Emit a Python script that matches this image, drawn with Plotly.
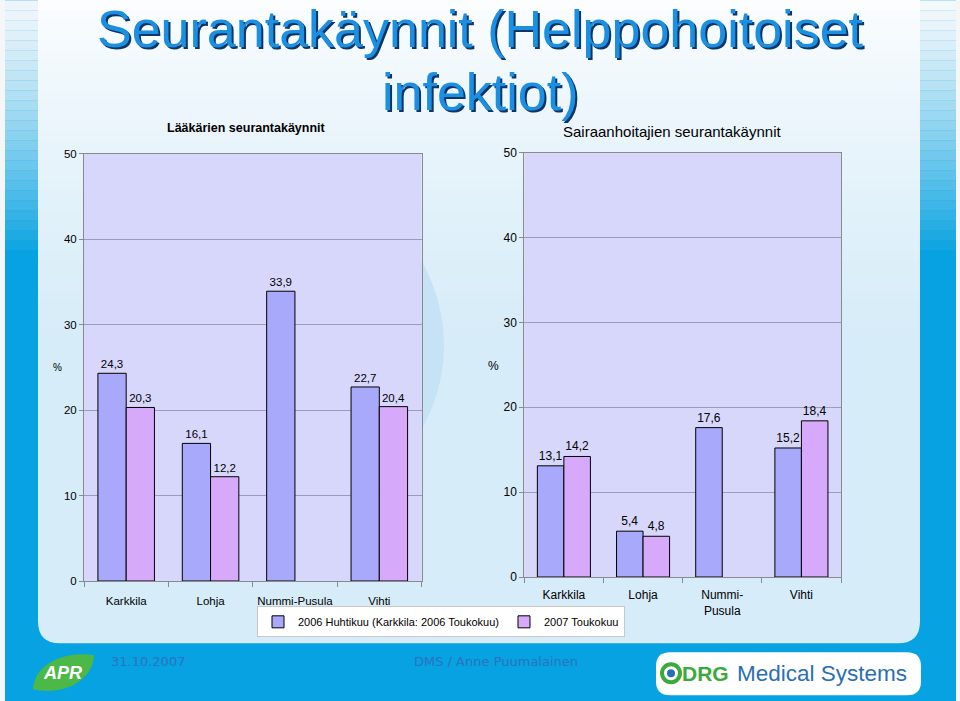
import plotly.graph_objects as go

W, H = 960, 701


def X(px):
    return px / W


def Y(py):
    return 1 - py / H


def D(ry):
    # reference-picture y pixel -> figure y pixel (the page is photographed
    # with a slight vertical squeeze: photo_y = 6.7 + 0.98 * fig_y)
    return (ry - 6.7) / 0.98


# ---------------- data ----------------
categories = ["Karkkila", "Lohja", "Nummi-Pusula", "Vihti"]
left_ticklabels = ["Karkkila", "Lohja", "Nummi-Pusula", "Vihti"]
right_ticklabels = ["Karkkila", "Lohja", "Nummi-<br>Pusula", "Vihti"]
series_names = ["2006 Huhtikuu (Karkkila: 2006 Toukokuu)", "2007 Toukokuu"]
doctors_2006 = [24.3, 16.1, 33.9, 22.7]
doctors_2007 = [20.3, 12.2, None, 20.4]
nurses_2006 = [13.1, 5.4, 17.6, 15.2]
nurses_2007 = [14.2, 4.8, None, 18.4]
y_ticks = [0, 10, 20, 30, 40, 50]

title_lines = ["Seurantakäynnit (Helppohoitoiset", "infektiot)"]
left_title = "Lääkärien seurantakäynnit"
right_title = "Sairaanhoitajien seurantakäynnit"
footer_date = "31.10.2007"
footer_author = "DMS / Anne Puumalainen"

# ---------------- style ----------------
FONT = "Liberation Sans, Arial, sans-serif"
C1 = "#a9a9fb"
C2 = "#d7a9fb"
PLOT_BG = "#d7d7fb"
GRID = "#9c9cba"
AXIS = "#8a8a8a"
BLUE = "#06a2e1"

# plot-area boxes (left, top, right, bottom) in figure pixels
LEFT_BOX = (84, D(153.3), 421.5, D(580.7))
RIGHT_BOX = (524.3, D(152.3), 841, D(576.7))

fig = go.Figure()

for name, vals, col in [
    (series_names[0], doctors_2006, C1),
    (series_names[1], doctors_2007, C2),
]:
    fig.add_trace(go.Bar(
        x=categories, y=vals, name=name, marker=dict(color=col, line=dict(color="black", width=1)),
        texttemplate="%{y:.1f}", textposition="outside", cliponaxis=False, constraintext="none",
        textfont=dict(size=11.5, color="black", family=FONT), xaxis="x", yaxis="y",
        legendgroup=name, showlegend=True, hoverinfo="skip"))

for name, vals, col in [
    (series_names[0], nurses_2006, C1),
    (series_names[1], nurses_2007, C2),
]:
    fig.add_trace(go.Bar(
        x=categories, y=vals, name=name, marker=dict(color=col, line=dict(color="black", width=1)),
        texttemplate="%{y:.1f}", textposition="outside", cliponaxis=False, constraintext="none",
        textfont=dict(size=12, color="black", family=FONT), xaxis="x2", yaxis="y2",
        legendgroup=name, showlegend=False, hoverinfo="skip"))


def hexrgb(h):
    h = h.lstrip("#")
    return tuple(int(h[i:i + 2], 16) for i in (0, 2, 4))


def mix(a, b, t):
    ra, rb = hexrgb(a), hexrgb(b)
    return "rgb(%d,%d,%d)" % tuple(round(ra[i] + (rb[i] - ra[i]) * t) for i in range(3))


shapes = []


def rect(x0, y0, x1, y1, color, layer="below", line=None):
    shapes.append(dict(type="rect", xref="paper", yref="paper", x0=X(x0), x1=X(x1), y0=Y(y1), y1=Y(y0),
                       fillcolor=color, line=dict(width=0) if line is None else line, layer=layer))


def path(d_pts, color, layer="below", line=None):
    shapes.append(dict(type="path", xref="paper", yref="paper", path=d_pts, fillcolor=color,
                       line=dict(width=0) if line is None else line, layer=layer))


def P(px, ry):
    return "%.5f,%.5f" % (X(px), Y(D(ry)))


# outer blue frame
rect(5, -10, 956, H + 10, BLUE)
# strip gradients
n = 26
for i in range(n):
    y0 = D(i * 10)
    rect(5, y0, 38, y0 + 10.5, mix("#eef5fa", BLUE, (i / (n - 1)) ** 1.3))
    rect(918, y0, 956, y0 + 10.5, mix("#f3f8fb", BLUE, (i / (n - 1)) ** 1.2))
# inner panel with rounded bottom corners
r = 22
d = ("M " + P(38, -10) + " L " + P(920, -10) + " L " + P(920, 643 - r) +
     " Q " + P(920, 643) + " " + P(920 - r, 643) + " L " + P(38 + r, 643) +
     " Q " + P(38, 643) + " " + P(38, 643 - r) + " Z")
path(d, "#d6ecf8")
m = 34
for i in range(m):
    y0 = D(i * 10)
    rect(38, y0 - (12 if i == 0 else 0), 920, y0 + 10.8, mix("#fbfdfe", "#d6ecf8", (i / (m - 1)) ** 0.8))
# decorative circle
shapes.append(dict(type="circle", xref="paper", yref="paper", x0=X(275 - 169), x1=X(275 + 169),
                   y0=Y(D(345 + 169)), y1=Y(D(345 - 169)), fillcolor="#c5e3f4", line=dict(width=0),
                   layer="below"))
# opaque plot backgrounds
for bx in (LEFT_BOX, RIGHT_BOX):
    rect(bx[0], bx[1], bx[2], bx[3], PLOT_BG)

# APR logo
path("M " + P(33, 689) + " C " + P(34, 662) + " " + P(68, 650) + " " + P(94, 655) +
     " C " + P(93, 681) + " " + P(62, 696) + " " + P(33, 689) + " Z", "#4cb848", layer="above")
# DRG logo box
rr = 14
d = ("M " + P(656 + rr, 652) + " L " + P(921 - rr, 652) + " Q " + P(921, 652) + " " + P(921, 652 + rr) +
     " L " + P(921, 695 - rr) + " Q " + P(921, 695) + " " + P(921 - rr, 695) + " L " + P(656 + rr, 695) +
     " Q " + P(656, 695) + " " + P(656, 695 - rr) + " L " + P(656, 652 + rr) + " Q " + P(656, 652) + " " +
     P(656 + rr, 652) + " Z")
path(d, "white", layer="above")
shapes.append(dict(type="circle", xref="paper", yref="paper", x0=X(662), x1=X(680), y0=Y(D(682)), y1=Y(D(664)),
                   fillcolor="rgba(0,0,0,0)", line=dict(color="#3aaa3a", width=4), layer="above"))
shapes.append(dict(type="circle", xref="paper", yref="paper", x0=X(667), x1=X(675), y0=Y(D(677)), y1=Y(D(669)),
                   fillcolor="#2a6fb5", line=dict(width=0), layer="above"))

annotations = []


def text(px, ry, s, size, color="black", xanchor="center", yanchor="middle", weight="normal",
         family=FONT, style="normal"):
    annotations.append(dict(x=X(px), y=Y(D(ry)), xref="paper", yref="paper", text=s, showarrow=False,
                            xanchor=xanchor, yanchor=yanchor,
                            font=dict(size=size, color=color, family=family, weight=weight, style=style)))


# main title with shadow
for line, ry in zip(title_lines, [28.3, 92]):
    text(482, ry + 2, line, 52, color="#0d3566")
    text(480, ry, line, 52, color="#1b8fe2")

text(247, 128, left_title, 12.5, weight="bold")
text(672, 131, right_title, 15)
text(57, 367, "%", 10)
text(493, 366, "%", 12)

# footer
text(148, 661, footer_date, 13, color="#2c72c0", family="DejaVu Sans, Verdana, sans-serif")
text(496, 661, footer_author, 13, color="#2c72c0", family="DejaVu Sans, Verdana, sans-serif")
text(62, 673, "APR", 18, color="white", weight="bold", style="italic")
text(680, 673.5, "DRG", 21, color="#3aaa3a", xanchor="left", weight="bold")
text(735, 673.5, "Medical Systems", 22.5, color="#2a6fb5", xanchor="left")

common_x = dict(type="category", tickson="boundaries", ticks="outside", ticklen=5, tickcolor=AXIS,
                showline=True, linecolor=AXIS, mirror=True, showgrid=False, tickvals=categories,
                tickangle=0, fixedrange=True)
common_y = dict(range=[0, 50], tickvals=y_ticks, ticks="outside", ticklen=4, tickcolor=AXIS,
                showline=True, linecolor=AXIS, mirror=True, showgrid=True, gridcolor=GRID,
                zeroline=False, fixedrange=True)

fig.update_layout(
    width=W, height=H, autosize=False,
    margin=dict(l=0, r=0, t=0, b=0),
    paper_bgcolor="#f4f6f7",
    plot_bgcolor="rgba(0,0,0,0)",
    separators=", ",
    barmode="group", bargap=0.33, bargroupgap=0,
    font=dict(family=FONT, color="black", size=11),
    xaxis=dict(domain=[X(LEFT_BOX[0]), X(LEFT_BOX[2])], anchor="y", ticktext=left_ticklabels,
               tickfont=dict(size=11.5), ticklabelstandoff=9, **common_x),
    yaxis=dict(domain=[Y(LEFT_BOX[3]), Y(LEFT_BOX[1])], anchor="x", tickfont=dict(size=11.5), **common_y),
    xaxis2=dict(domain=[X(RIGHT_BOX[0]), X(RIGHT_BOX[2])], anchor="y2", ticktext=right_ticklabels,
                tickfont=dict(size=12), ticklabelstandoff=7, **common_x),
    yaxis2=dict(domain=[Y(RIGHT_BOX[3]), Y(RIGHT_BOX[1])], anchor="x2", tickfont=dict(size=12), **common_y),
    legend=dict(orientation="h", x=X(441), y=Y(D(606)), xanchor="center", yanchor="top",
                bgcolor="white", bordercolor="#c8c8c8", borderwidth=1, font=dict(size=11),
                itemwidth=30, traceorder="normal"),
    shapes=shapes,
    annotations=annotations,
)

fig.write_html(
    "out.html",
    config={"displayModeBar": False},
    post_script=(
        "document.documentElement.style.margin='0';"
        "document.documentElement.style.overflow='hidden';"
        "document.body.style.margin='0';"
        "document.body.style.overflow='hidden';"
        "var gd=document.getElementById('{plot_id}');"
        "gd.style.position='absolute';gd.style.top='0px';gd.style.left='0px';"
    ),
)
